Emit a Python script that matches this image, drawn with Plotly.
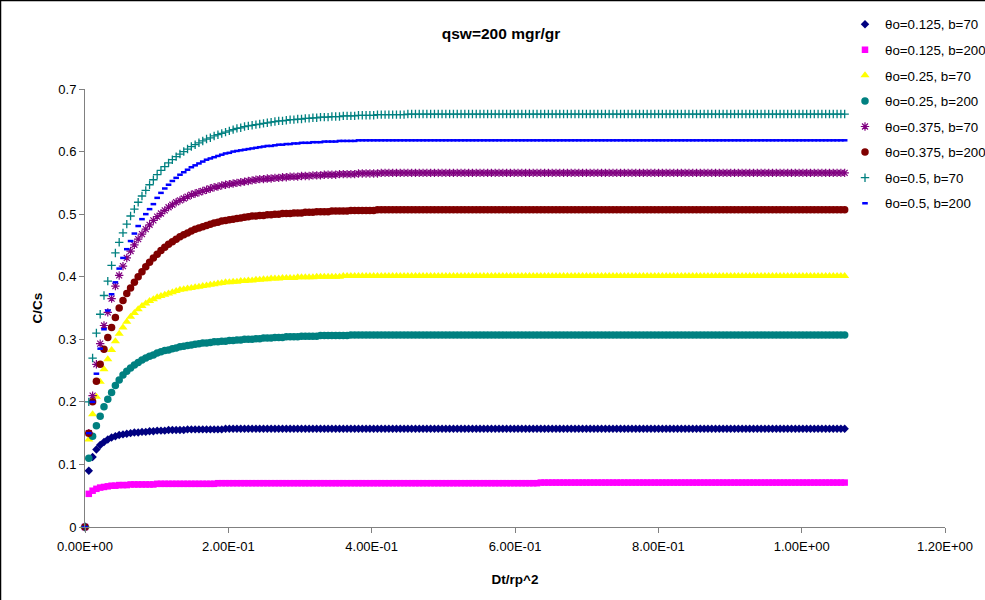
import plotly.graph_objects as go

# ---------------- data ----------------
dt = [
    0, 0.0053, 0.0106, 0.0159, 0.0212, 0.0265, 0.0318, 0.0371, 0.0424, 0.0477,
    0.053, 0.0583, 0.0636, 0.0689, 0.0742, 0.0795, 0.0848, 0.0901, 0.0954, 0.1007,
    0.106, 0.1113, 0.1166, 0.1219, 0.1272, 0.1325, 0.1378, 0.1431, 0.1484, 0.1537,
    0.159, 0.1643, 0.1696, 0.1749, 0.1802, 0.1855, 0.1908, 0.1961, 0.2014, 0.2067,
    0.212, 0.2173, 0.2226, 0.2279, 0.2332, 0.2385, 0.2438, 0.2491, 0.2544, 0.2597,
    0.265, 0.2703, 0.2756, 0.2809, 0.2862, 0.2915, 0.2968, 0.3021, 0.3074, 0.3127,
    0.318, 0.3233, 0.3286, 0.3339, 0.3392, 0.3445, 0.3498, 0.3551, 0.3604, 0.3657,
    0.371, 0.3763, 0.3816, 0.3869, 0.3922, 0.3975, 0.4028, 0.4081, 0.4134, 0.4187,
    0.424, 0.4293, 0.4346, 0.4399, 0.4452, 0.4505, 0.4558, 0.4611, 0.4664, 0.4717,
    0.477, 0.4823, 0.4876, 0.4929, 0.4982, 0.5035, 0.5088, 0.5141, 0.5194, 0.5247,
    0.53, 0.5353, 0.5406, 0.5459, 0.5512, 0.5565, 0.5618, 0.5671, 0.5724, 0.5777,
    0.583, 0.5883, 0.5936, 0.5989, 0.6042, 0.6095, 0.6148, 0.6201, 0.6254, 0.6307,
    0.636, 0.6413, 0.6466, 0.6519, 0.6572, 0.6625, 0.6678, 0.6731, 0.6784, 0.6837,
    0.689, 0.6943, 0.6996, 0.7049, 0.7102, 0.7155, 0.7208, 0.7261, 0.7314, 0.7367,
    0.742, 0.7473, 0.7526, 0.7579, 0.7632, 0.7685, 0.7738, 0.7791, 0.7844, 0.7897,
    0.795, 0.8003, 0.8056, 0.8109, 0.8162, 0.8215, 0.8268, 0.8321, 0.8374, 0.8427,
    0.848, 0.8533, 0.8586, 0.8639, 0.8692, 0.8745, 0.8798, 0.8851, 0.8904, 0.8957,
    0.901, 0.9063, 0.9116, 0.9169, 0.9222, 0.9275, 0.9328, 0.9381, 0.9434, 0.9487,
    0.954, 0.9593, 0.9646, 0.9699, 0.9752, 0.9805, 0.9858, 0.9911, 0.9964, 1.0017,
    1.007, 1.0123, 1.0176, 1.0229, 1.0282, 1.0335, 1.0388, 1.0441, 1.0494, 1.0547,
    1.06,
]

# theta_o = 0.125, b = 70
c_0125_70 = [
    0, 0.09, 0.112, 0.124, 0.131, 0.136, 0.14, 0.143, 0.145, 0.147,
    0.148, 0.149, 0.15, 0.151, 0.151, 0.152, 0.152, 0.153, 0.153, 0.154,
    0.154, 0.154, 0.155, 0.155, 0.155, 0.155, 0.155, 0.156, 0.156, 0.156,
    0.156, 0.156, 0.156, 0.156, 0.156, 0.156, 0.156, 0.157, 0.157, 0.157,
    0.157, 0.157, 0.157, 0.157, 0.157, 0.157, 0.157, 0.157, 0.157, 0.157,
    0.157, 0.157, 0.157, 0.157, 0.157, 0.157, 0.157, 0.157, 0.157, 0.157,
    0.157, 0.157, 0.157, 0.157, 0.157, 0.157, 0.157, 0.157, 0.157, 0.157,
    0.157, 0.157, 0.157, 0.157, 0.157, 0.157, 0.157, 0.157, 0.157, 0.157,
    0.157, 0.157, 0.157, 0.157, 0.157, 0.157, 0.157, 0.157, 0.157, 0.157,
    0.157, 0.157, 0.157, 0.157, 0.157, 0.157, 0.157, 0.157, 0.157, 0.157,
    0.157, 0.157, 0.157, 0.157, 0.157, 0.157, 0.157, 0.157, 0.157, 0.157,
    0.157, 0.157, 0.157, 0.157, 0.157, 0.157, 0.157, 0.157, 0.157, 0.157,
    0.157, 0.157, 0.157, 0.157, 0.157, 0.157, 0.157, 0.157, 0.157, 0.157,
    0.157, 0.157, 0.157, 0.157, 0.157, 0.157, 0.157, 0.157, 0.157, 0.157,
    0.157, 0.157, 0.157, 0.157, 0.157, 0.157, 0.157, 0.157, 0.157, 0.157,
    0.157, 0.157, 0.157, 0.157, 0.157, 0.157, 0.157, 0.157, 0.157, 0.157,
    0.157, 0.157, 0.157, 0.157, 0.157, 0.157, 0.157, 0.157, 0.157, 0.157,
    0.157, 0.157, 0.157, 0.157, 0.157, 0.157, 0.157, 0.157, 0.157, 0.157,
    0.157, 0.157, 0.157, 0.157, 0.157, 0.157, 0.157, 0.157, 0.157, 0.157,
    0.157, 0.157, 0.157, 0.157, 0.157, 0.157, 0.157, 0.157, 0.157, 0.157,
    0.157,
]

# theta_o = 0.125, b = 200
c_0125_200 = [
    0, 0.053, 0.058, 0.061, 0.063, 0.064, 0.065, 0.066, 0.066, 0.067,
    0.067, 0.067, 0.068, 0.068, 0.068, 0.068, 0.068, 0.068, 0.068, 0.069,
    0.069, 0.069, 0.069, 0.069, 0.069, 0.069, 0.069, 0.069, 0.069, 0.069,
    0.069, 0.069, 0.069, 0.069, 0.069, 0.07, 0.07, 0.07, 0.07, 0.07,
    0.07, 0.07, 0.07, 0.07, 0.07, 0.07, 0.07, 0.07, 0.07, 0.07,
    0.07, 0.07, 0.07, 0.07, 0.07, 0.07, 0.07, 0.07, 0.07, 0.07,
    0.07, 0.07, 0.07, 0.07, 0.07, 0.07, 0.07, 0.07, 0.07, 0.07,
    0.07, 0.07, 0.07, 0.07, 0.07, 0.07, 0.07, 0.07, 0.07, 0.07,
    0.07, 0.07, 0.07, 0.07, 0.07, 0.07, 0.07, 0.07, 0.07, 0.07,
    0.07, 0.07, 0.07, 0.07, 0.07, 0.07, 0.07, 0.07, 0.07, 0.07,
    0.07, 0.07, 0.07, 0.07, 0.07, 0.07, 0.07, 0.07, 0.07, 0.07,
    0.07, 0.07, 0.07, 0.07, 0.07, 0.07, 0.07, 0.07, 0.07, 0.07,
    0.071, 0.071, 0.071, 0.071, 0.071, 0.071, 0.071, 0.071, 0.071, 0.071,
    0.071, 0.071, 0.071, 0.071, 0.071, 0.071, 0.071, 0.071, 0.071, 0.071,
    0.071, 0.071, 0.071, 0.071, 0.071, 0.071, 0.071, 0.071, 0.071, 0.071,
    0.071, 0.071, 0.071, 0.071, 0.071, 0.071, 0.071, 0.071, 0.071, 0.071,
    0.071, 0.071, 0.071, 0.071, 0.071, 0.071, 0.071, 0.071, 0.071, 0.071,
    0.071, 0.071, 0.071, 0.071, 0.071, 0.071, 0.071, 0.071, 0.071, 0.071,
    0.071, 0.071, 0.071, 0.071, 0.071, 0.071, 0.071, 0.071, 0.071, 0.071,
    0.071, 0.071, 0.071, 0.071, 0.071, 0.071, 0.071, 0.071, 0.071, 0.071,
    0.071,
]

# theta_o = 0.25, b = 70
c_025_70 = [
    0, 0.14, 0.18, 0.208, 0.232, 0.252, 0.268, 0.283, 0.297, 0.309,
    0.319, 0.328, 0.336, 0.342, 0.348, 0.353, 0.357, 0.361, 0.364, 0.367,
    0.369, 0.371, 0.373, 0.375, 0.377, 0.379, 0.38, 0.381, 0.382, 0.383,
    0.384, 0.385, 0.386, 0.387, 0.388, 0.389, 0.39, 0.391, 0.391, 0.392,
    0.392, 0.393, 0.393, 0.394, 0.394, 0.395, 0.395, 0.396, 0.396, 0.397,
    0.397, 0.397, 0.398, 0.398, 0.398, 0.398, 0.399, 0.399, 0.399, 0.399,
    0.399, 0.4, 0.4, 0.4, 0.4, 0.4, 0.4, 0.4, 0.401, 0.401,
    0.401, 0.401, 0.401, 0.401, 0.401, 0.401, 0.401, 0.401, 0.401, 0.401,
    0.401, 0.401, 0.401, 0.401, 0.401, 0.401, 0.401, 0.401, 0.401, 0.401,
    0.401, 0.401, 0.401, 0.401, 0.401, 0.401, 0.401, 0.401, 0.401, 0.401,
    0.401, 0.401, 0.401, 0.401, 0.401, 0.401, 0.401, 0.401, 0.401, 0.401,
    0.401, 0.401, 0.401, 0.401, 0.401, 0.401, 0.401, 0.401, 0.401, 0.401,
    0.401, 0.401, 0.401, 0.401, 0.401, 0.401, 0.401, 0.401, 0.401, 0.401,
    0.401, 0.401, 0.401, 0.401, 0.401, 0.401, 0.401, 0.401, 0.401, 0.401,
    0.401, 0.401, 0.401, 0.401, 0.401, 0.401, 0.401, 0.401, 0.401, 0.401,
    0.401, 0.401, 0.401, 0.401, 0.401, 0.401, 0.401, 0.401, 0.401, 0.401,
    0.401, 0.401, 0.401, 0.401, 0.401, 0.401, 0.401, 0.401, 0.401, 0.401,
    0.401, 0.401, 0.401, 0.401, 0.401, 0.401, 0.401, 0.401, 0.401, 0.401,
    0.401, 0.401, 0.401, 0.401, 0.401, 0.401, 0.401, 0.401, 0.401, 0.401,
    0.401, 0.401, 0.401, 0.401, 0.401, 0.401, 0.401, 0.401, 0.401, 0.401,
    0.401,
]

# theta_o = 0.25, b = 200
c_025_200 = [
    0, 0.11, 0.145, 0.162, 0.177, 0.192, 0.204, 0.215, 0.226, 0.235,
    0.243, 0.249, 0.254, 0.259, 0.263, 0.267, 0.27, 0.273, 0.275, 0.278,
    0.28, 0.282, 0.283, 0.285, 0.286, 0.288, 0.289, 0.29, 0.291, 0.292,
    0.293, 0.294, 0.294, 0.295, 0.296, 0.296, 0.297, 0.297, 0.298, 0.298,
    0.299, 0.299, 0.3, 0.3, 0.3, 0.301, 0.301, 0.302, 0.302, 0.302,
    0.303, 0.303, 0.303, 0.304, 0.304, 0.304, 0.304, 0.305, 0.305, 0.305,
    0.305, 0.305, 0.306, 0.306, 0.306, 0.306, 0.306, 0.306, 0.306, 0.306,
    0.307, 0.307, 0.307, 0.307, 0.307, 0.307, 0.307, 0.307, 0.307, 0.307,
    0.307, 0.307, 0.307, 0.307, 0.307, 0.307, 0.307, 0.307, 0.307, 0.307,
    0.307, 0.307, 0.307, 0.307, 0.307, 0.307, 0.307, 0.307, 0.307, 0.307,
    0.307, 0.307, 0.307, 0.307, 0.307, 0.307, 0.307, 0.307, 0.307, 0.307,
    0.307, 0.307, 0.307, 0.307, 0.307, 0.307, 0.307, 0.307, 0.307, 0.307,
    0.307, 0.307, 0.307, 0.307, 0.307, 0.307, 0.307, 0.307, 0.307, 0.307,
    0.307, 0.307, 0.307, 0.307, 0.307, 0.307, 0.307, 0.307, 0.307, 0.307,
    0.307, 0.307, 0.307, 0.307, 0.307, 0.307, 0.307, 0.307, 0.307, 0.307,
    0.307, 0.307, 0.307, 0.307, 0.307, 0.307, 0.307, 0.307, 0.307, 0.307,
    0.307, 0.307, 0.307, 0.307, 0.307, 0.307, 0.307, 0.307, 0.307, 0.307,
    0.307, 0.307, 0.307, 0.307, 0.307, 0.307, 0.307, 0.307, 0.307, 0.307,
    0.307, 0.307, 0.307, 0.307, 0.307, 0.307, 0.307, 0.307, 0.307, 0.307,
    0.307, 0.307, 0.307, 0.307, 0.307, 0.307, 0.307, 0.307, 0.307, 0.307,
    0.307,
]

# theta_o = 0.375, b = 70
c_0375_70 = [
    0, 0.15, 0.21, 0.26, 0.293, 0.322, 0.343, 0.365, 0.385, 0.402,
    0.417, 0.43, 0.441, 0.451, 0.46, 0.468, 0.476, 0.483, 0.49, 0.496,
    0.501, 0.506, 0.511, 0.515, 0.519, 0.522, 0.525, 0.528, 0.531, 0.533,
    0.535, 0.537, 0.539, 0.541, 0.543, 0.544, 0.546, 0.547, 0.548, 0.549,
    0.55, 0.551, 0.552, 0.553, 0.554, 0.555, 0.556, 0.556, 0.557, 0.557,
    0.558, 0.558, 0.559, 0.559, 0.56, 0.56, 0.56, 0.561, 0.561, 0.561,
    0.562, 0.562, 0.562, 0.563, 0.563, 0.563, 0.563, 0.564, 0.564, 0.564,
    0.564, 0.564, 0.565, 0.565, 0.565, 0.565, 0.565, 0.565, 0.566, 0.566,
    0.566, 0.566, 0.566, 0.566, 0.566, 0.566, 0.566, 0.566, 0.566, 0.566,
    0.566, 0.566, 0.566, 0.566, 0.566, 0.566, 0.566, 0.566, 0.566, 0.566,
    0.566, 0.566, 0.566, 0.566, 0.566, 0.566, 0.566, 0.566, 0.566, 0.566,
    0.566, 0.566, 0.566, 0.566, 0.566, 0.566, 0.566, 0.566, 0.566, 0.566,
    0.566, 0.566, 0.566, 0.566, 0.566, 0.566, 0.566, 0.566, 0.566, 0.566,
    0.566, 0.566, 0.566, 0.566, 0.566, 0.566, 0.566, 0.566, 0.566, 0.566,
    0.566, 0.566, 0.566, 0.566, 0.566, 0.566, 0.566, 0.566, 0.566, 0.566,
    0.566, 0.566, 0.566, 0.566, 0.566, 0.566, 0.566, 0.566, 0.566, 0.566,
    0.566, 0.566, 0.566, 0.566, 0.566, 0.566, 0.566, 0.566, 0.566, 0.566,
    0.566, 0.566, 0.566, 0.566, 0.566, 0.566, 0.566, 0.566, 0.566, 0.566,
    0.566, 0.566, 0.566, 0.566, 0.566, 0.566, 0.566, 0.566, 0.566, 0.566,
    0.566, 0.566, 0.566, 0.566, 0.566, 0.566, 0.566, 0.566, 0.566, 0.566,
    0.566,
]

# theta_o = 0.375, b = 200
c_0375_200 = [
    0, 0.15, 0.2, 0.233, 0.26, 0.284, 0.303, 0.319, 0.335, 0.35,
    0.362, 0.373, 0.382, 0.391, 0.4, 0.408, 0.416, 0.423, 0.43, 0.436,
    0.442, 0.447, 0.452, 0.456, 0.46, 0.464, 0.467, 0.47, 0.473, 0.476,
    0.478, 0.48, 0.482, 0.484, 0.486, 0.487, 0.489, 0.49, 0.491, 0.492,
    0.493, 0.494, 0.495, 0.496, 0.497, 0.497, 0.498, 0.498, 0.499, 0.499,
    0.5, 0.5, 0.501, 0.501, 0.501, 0.502, 0.502, 0.502, 0.503, 0.503,
    0.503, 0.504, 0.504, 0.504, 0.504, 0.505, 0.505, 0.505, 0.505, 0.505,
    0.506, 0.506, 0.506, 0.506, 0.506, 0.506, 0.506, 0.507, 0.507, 0.507,
    0.507, 0.507, 0.507, 0.507, 0.507, 0.507, 0.507, 0.507, 0.507, 0.507,
    0.507, 0.507, 0.507, 0.507, 0.507, 0.507, 0.507, 0.507, 0.507, 0.507,
    0.507, 0.507, 0.507, 0.507, 0.507, 0.507, 0.507, 0.507, 0.507, 0.507,
    0.507, 0.507, 0.507, 0.507, 0.507, 0.507, 0.507, 0.507, 0.507, 0.507,
    0.507, 0.507, 0.507, 0.507, 0.507, 0.507, 0.507, 0.507, 0.507, 0.507,
    0.507, 0.507, 0.507, 0.507, 0.507, 0.507, 0.507, 0.507, 0.507, 0.507,
    0.507, 0.507, 0.507, 0.507, 0.507, 0.507, 0.507, 0.507, 0.507, 0.507,
    0.507, 0.507, 0.507, 0.507, 0.507, 0.507, 0.507, 0.507, 0.507, 0.507,
    0.507, 0.507, 0.507, 0.507, 0.507, 0.507, 0.507, 0.507, 0.507, 0.507,
    0.507, 0.507, 0.507, 0.507, 0.507, 0.507, 0.507, 0.507, 0.507, 0.507,
    0.507, 0.507, 0.507, 0.507, 0.507, 0.507, 0.507, 0.507, 0.507, 0.507,
    0.507, 0.507, 0.507, 0.507, 0.507, 0.507, 0.507, 0.507, 0.507, 0.507,
    0.507,
]

# theta_o = 0.5, b = 70
c_05_70 = [
    0, 0.2, 0.27, 0.31, 0.34, 0.37, 0.393, 0.418, 0.438, 0.455,
    0.47, 0.484, 0.497, 0.508, 0.519, 0.529, 0.538, 0.547, 0.555, 0.563,
    0.57, 0.576, 0.582, 0.587, 0.592, 0.596, 0.6, 0.604, 0.608, 0.611,
    0.614, 0.617, 0.62, 0.622, 0.625, 0.627, 0.629, 0.631, 0.633, 0.635,
    0.637, 0.638, 0.64, 0.641, 0.642, 0.643, 0.644, 0.645, 0.646, 0.647,
    0.648, 0.649, 0.649, 0.65, 0.651, 0.651, 0.652, 0.652, 0.653, 0.653,
    0.654, 0.654, 0.655, 0.655, 0.655, 0.656, 0.656, 0.656, 0.657, 0.657,
    0.657, 0.657, 0.658, 0.658, 0.658, 0.658, 0.658, 0.659, 0.659, 0.659,
    0.659, 0.659, 0.659, 0.659, 0.659, 0.66, 0.66, 0.66, 0.66, 0.66,
    0.66, 0.66, 0.66, 0.66, 0.66, 0.66, 0.66, 0.66, 0.66, 0.66,
    0.66, 0.66, 0.66, 0.66, 0.66, 0.66, 0.66, 0.66, 0.66, 0.66,
    0.66, 0.66, 0.66, 0.66, 0.66, 0.66, 0.66, 0.66, 0.66, 0.66,
    0.66, 0.66, 0.66, 0.66, 0.66, 0.66, 0.66, 0.66, 0.66, 0.66,
    0.66, 0.66, 0.66, 0.66, 0.66, 0.66, 0.66, 0.66, 0.66, 0.66,
    0.66, 0.66, 0.66, 0.66, 0.66, 0.66, 0.66, 0.66, 0.66, 0.66,
    0.66, 0.66, 0.66, 0.66, 0.66, 0.66, 0.66, 0.66, 0.66, 0.66,
    0.66, 0.66, 0.66, 0.66, 0.66, 0.66, 0.66, 0.66, 0.66, 0.66,
    0.66, 0.66, 0.66, 0.66, 0.66, 0.66, 0.66, 0.66, 0.66, 0.66,
    0.66, 0.66, 0.66, 0.66, 0.66, 0.66, 0.66, 0.66, 0.66, 0.66,
    0.66, 0.66, 0.66, 0.66, 0.66, 0.66, 0.66, 0.66, 0.66, 0.66,
    0.66,
]

# theta_o = 0.5, b = 200
c_05_200 = [
    0, 0.15, 0.2, 0.245, 0.285, 0.316, 0.346, 0.372, 0.391, 0.413,
    0.43, 0.444, 0.457, 0.469, 0.481, 0.492, 0.5, 0.508, 0.516, 0.526,
    0.534, 0.541, 0.547, 0.553, 0.558, 0.563, 0.567, 0.571, 0.575, 0.578,
    0.581, 0.584, 0.587, 0.589, 0.591, 0.593, 0.595, 0.597, 0.598, 0.6,
    0.601, 0.602, 0.603, 0.604, 0.605, 0.606, 0.607, 0.608, 0.609, 0.609,
    0.61, 0.611, 0.611, 0.612, 0.612, 0.613, 0.613, 0.614, 0.614, 0.614,
    0.615, 0.615, 0.615, 0.616, 0.616, 0.616, 0.616, 0.617, 0.617, 0.617,
    0.617, 0.617, 0.618, 0.618, 0.618, 0.618, 0.618, 0.618, 0.618, 0.618,
    0.618, 0.618, 0.618, 0.618, 0.618, 0.618, 0.618, 0.618, 0.618, 0.618,
    0.618, 0.618, 0.618, 0.618, 0.618, 0.618, 0.618, 0.618, 0.618, 0.618,
    0.618, 0.618, 0.618, 0.618, 0.618, 0.618, 0.618, 0.618, 0.618, 0.618,
    0.618, 0.618, 0.618, 0.618, 0.618, 0.618, 0.618, 0.618, 0.618, 0.618,
    0.618, 0.618, 0.618, 0.618, 0.618, 0.618, 0.618, 0.618, 0.618, 0.618,
    0.618, 0.618, 0.618, 0.618, 0.618, 0.618, 0.618, 0.618, 0.618, 0.618,
    0.618, 0.618, 0.618, 0.618, 0.618, 0.618, 0.618, 0.618, 0.618, 0.618,
    0.618, 0.618, 0.618, 0.618, 0.618, 0.618, 0.618, 0.618, 0.618, 0.618,
    0.618, 0.618, 0.618, 0.618, 0.618, 0.618, 0.618, 0.618, 0.618, 0.618,
    0.618, 0.618, 0.618, 0.618, 0.618, 0.618, 0.618, 0.618, 0.618, 0.618,
    0.618, 0.618, 0.618, 0.618, 0.618, 0.618, 0.618, 0.618, 0.618, 0.618,
    0.618, 0.618, 0.618, 0.618, 0.618, 0.618, 0.618, 0.618, 0.618, 0.618,
    0.618,
]

series_names = [
    "θo=0.125, b=70", "θo=0.125, b=200", "θo=0.25, b=70", "θo=0.25, b=200",
    "θo=0.375, b=70", "θo=0.375, b=200", "θo=0.5, b=70", "θo=0.5, b=200",
]
series_values = [c_0125_70, c_0125_200, c_025_70, c_025_200,
                 c_0375_70, c_0375_200, c_05_70, c_05_200]

x_tick_values = [0, 0.2, 0.4, 0.6, 0.8, 1.0, 1.2]
x_tick_labels = ["0.00E+00", "2.00E-01", "4.00E-01", "6.00E-01",
                 "8.00E-01", "1.00E+00", "1.20E+00"]

# ---------------- styles ----------------
styles = [
    dict(symbol="diamond", size=6.5, color="#000080", lw=0),
    dict(symbol="square", size=6.5, color="#FF00FF", lw=0),
    dict(symbol="triangle-up", size=8, color="#FFFF00", lw=0),
    dict(symbol="circle", size=7.5, color="#008080", lw=0),
    dict(symbol="asterisk-open", size=7, color="#800080", lw=1.2),
    dict(symbol="circle", size=7.5, color="#800000", lw=0),
    dict(symbol="cross-thin-open", size=6, color="#008080", lw=1.3),
    dict(symbol="line-ew-open", size=4, color="#0000FF", lw=2.5),
]

FONT = "Arial, 'Liberation Sans', sans-serif"

fig = go.Figure()
for k, (name, vals, st) in enumerate(zip(series_names, series_values, styles)):
    assert len(vals) == len(dt), (name, len(vals))
    fig.add_trace(go.Scatter(
        x=dt, y=vals, mode="markers", name=name, legendgroup=str(k),
        cliponaxis=False,
        marker=dict(symbol=st["symbol"], size=st["size"], color=st["color"],
                    line=dict(width=st["lw"], color=st["color"])),
    ))

W, H = 985, 600
ML, MR, MT, MB = 85, 40, 89, 73
pw, ph = W - ML - MR, H - MT - MB

fig.update_layout(
    width=W, height=H,
    margin=dict(l=ML, r=MR, t=MT, b=MB, autoexpand=False),
    paper_bgcolor="white", plot_bgcolor="white",
    font=dict(family=FONT, size=12, color="black"),
    title=dict(text="<b>qsw=200 mgr/gr</b>", xref="container", yref="container",
               x=501 / W, y=1 - 34 / H, xanchor="center", yanchor="middle",
               font=dict(family=FONT, size=15.5, color="black")),
    showlegend=True,
    legend=dict(x=(845 - ML) / pw, y=1 + (MT - 9) / ph, xanchor="left", yanchor="top",
                font=dict(family=FONT, size=13.3, color="black"),
                bgcolor="rgba(0,0,0,0)", tracegroupgap=5.3, itemsizing="trace"),
    xaxis=dict(range=[0, 1.2], tickvals=x_tick_values, ticktext=x_tick_labels,
               showgrid=False, zeroline=False, showline=True, linecolor="#808080",
               linewidth=1, ticks="outside", ticklen=5, tickcolor="#808080",
               ticklabelstandoff=2,
               tickfont=dict(family=FONT, size=13, color="black"),
               title=dict(text="<b>Dt/rp^2</b>", font=dict(family=FONT, size=13.5, color="black"),
                          standoff=21)),
    yaxis=dict(range=[0, 0.7], dtick=0.1, showgrid=False, zeroline=False,
               showline=True, linecolor="#808080", linewidth=1, ticks="outside",
               ticklen=5, tickcolor="#808080",
               tickfont=dict(family=FONT, size=13, color="black"),
               title=dict(text="<b>C/Cs</b>", font=dict(family=FONT, size=13.5, color="black"),
                          standoff=12)),
    shapes=[
        dict(type="line", xref="paper", yref="paper",
             x0=(0.5 - ML) / pw, x1=(0.5 - ML) / pw, y0=-MB / ph, y1=1 + MT / ph,
             line=dict(color="black", width=1.5)),
        dict(type="line", xref="paper", yref="paper",
             x0=-ML / pw, x1=(W - ML) / pw, y0=1 + (MT - 0.5) / ph, y1=1 + (MT - 0.5) / ph,
             line=dict(color="black", width=1.5)),
    ],
)

fig.write_html("out.html")
